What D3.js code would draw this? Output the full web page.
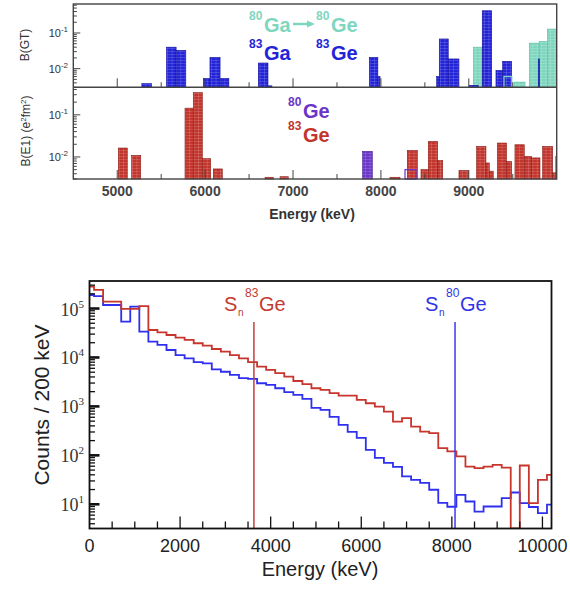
<!DOCTYPE html>
<html><head><meta charset="utf-8">
<script src="https://cdn.jsdelivr.net/npm/d3@7"></script>
<style>body{margin:0;background:#fff} svg{display:block}</style>
</head><body>
<svg id="c" width="570" height="589"></svg>
<script>
// ---------------- DATA ----------------
// B(GT) panel: [E low (keV), E high (keV), B(GT)]
const gtGa83 = [
  [5280,5390,0.0038],[5560,5670,0.040],[5670,5780,0.0325],[5980,6270,0.0053],
  [6055,6170,0.0207],[6605,6715,0.0144],[6715,6760,0.0033],[7868,7965,0.0207],
  [7965,7990,0.006],[8634,8664,0.006],[8664,8766,0.068],[8766,8888,0.0187],
  [9005,9107,0.0034],[9153,9260,0.42],[9309,9385,0.0089],[9385,9488,0.016],
  [9790,9805,0.0187]
];
const gtGa80 = [
  [9051,9153,0.040],[9514,9640,0.0042],[9688,9801,0.052],[9801,9893,0.058],[9893,10000,0.129]
];
const gtGa80Open = [[9400,9490,0.006]];
// B(E1) panel
const e1Ge83 = [
  [5012,5114,0.0163],[5164,5267,0.0109],[5771,5865,0.144],[5865,5968,0.336],
  [5968,6063,0.0091],[6093,6195,0.0052],[6682,6775,0.0033],[6852,6946,0.0034],
  [8103,8217,0.0033],[8300,8414,0.0143],[8456,8539,0.005],[8539,8646,0.0234],
  [8646,8703,0.0082],[8888,8994,0.0048],[9089,9195,0.0178],[9195,9233,0.0072],
  [9233,9278,0.0046],[9324,9430,0.0214],[9430,9488,0.0078],[9525,9631,0.0195],
  [9631,9715,0.0103],[9715,9810,0.0095],[9840,9954,0.0178],[9954,9990,0.0042]
];
const e1Ge80 = [[7792,7902,0.0136],[9990,10000,0.0103]];
const e1Ge80Open = [[8274,8399,0.005]];
const topDecades = [0.01, 0.1];
const topDecadeExp = ["-2", "-1"];
const topEnergyTicks = [5000,6000,7000,8000,9000];

// Neutron spectra: counts per 200 keV bin, bins centred at 0,200,...,10200 keV
const binWidth = 200;
const countsGe83 = [
  2.8e5,2.4e5,1.38e5,1.38e5,9.8e4,9.8e4,1.12e5,3.64e4,3.27e4,2.88e4,
  2.54e4,2.28e4,1.95e4,1.74e4,1.49e4,1.31e4,1.12e4,9600,8000,6500,
  5600,4800,4060,3300,2840,2350,2170,1860,1660,1660,
  1360,1160,990,783,490,574,387,306,284,140,
  120,95,59,55,59,64,56,1,62,10.6,31.6,40
];
const countsGe80 = [
  1.89e5,1.8e5,1.18e5,1.18e5,5.4e4,1.09e5,3.37e4,2.1e4,1.8e4,1.42e4,
  1.12e4,9600,8000,7600,5700,5100,4400,3770,3640,2970,
  2750,2350,1950,1720,1420,930,849,611,419,302,
  228,129,89,70,58,37,31.6,27.5,19.8,10.7,
  8.9,15.6,11.4,7.1,9.0,9.0,13.4,17.4,10.6,8.8,6.6,9.8
];
const snGe83 = 3630, snGe80 = 8070;
const countDecades = [10,100,1000,10000,100000];
const countDecadeExp = ["1","2","3","4","5"];
const bottomEnergyTicks = [0,2000,4000,6000,8000,10000];

// ---------------- DRAW ----------------
const svg = d3.select('#c');
const C = {teal:'#7fd6bf', blue:'#2323d8', red:'#c2352c', purple:'#6b34c8',
           lineRed:'#c8352c', lineBlue:'#2f2ff0'};
const defs = svg.append('defs');
function pattern(id, color){
  const p = defs.append('pattern').attr('id',id).attr('patternUnits','userSpaceOnUse')
    .attr('width',4.4).attr('height',3);
  p.append('rect').attr('width',4.4).attr('height',3).attr('fill',color);
  p.append('path').attr('d','M0 0.4H4.4M0.4 0V3').attr('stroke','#fff')
    .attr('stroke-opacity',0.22).attr('stroke-width',0.7);
}
pattern('pBlue',C.blue); pattern('pTeal',C.teal); pattern('pRed',C.red); pattern('pPurple',C.purple);

function logMinor(d0,d1){
  const out=[];
  for(let e=Math.floor(Math.log10(d0));e<=Math.ceil(Math.log10(d1));e++){
    for(let m=1;m<=9;m++){const v=m*Math.pow(10,e); if(v>=d0&&v<=d1) out.push(v);}
  }
  return out;
}

// ----- top figure -----
const xT = d3.scaleLinear([4500,10000],[73.3,556.7]);
const yGT = d3.scaleLog([0.003,0.65],[87.3,4]);
const yE1 = d3.scaleLog([0.003,0.45],[179,87.3]);
const gT = svg.append('g');

function bars(data, y, fill, stroke, open){
  const base = y.range()[0];
  gT.append('g').selectAll('rect').data(data).join('rect')
    .attr('x', d=>xT(d[0])).attr('width', d=>xT(d[1])-xT(d[0]))
    .attr('y', d=>y(d[2])).attr('height', d=>base-y(d[2]))
    .attr('fill', open?'none':fill).attr('stroke', stroke)
    .attr('stroke-width', open?1.2:0.6);
}
bars(gtGa80, yGT, 'url(#pTeal)', '#5fbfa6');
bars(gtGa83, yGT, 'url(#pBlue)', '#10109a');
bars(gtGa80Open, yGT, null, C.teal, true);
bars(e1Ge80, yE1, 'url(#pPurple)', '#4a1f99');
bars(e1Ge83, yE1, 'url(#pRed)', '#8a1d16');
bars(e1Ge80Open, yE1, null, C.purple, true);

// frame
gT.append('rect').attr('x',73.3).attr('y',4).attr('width',556.7-73.3).attr('height',175)
  .attr('fill','none').attr('stroke','#444').attr('stroke-width',1.4);
gT.append('line').attr('x1',73.3).attr('x2',556.7).attr('y1',87.3).attr('y2',87.3)
  .attr('stroke','#444').attr('stroke-width',1.4);

// x ticks on both sub-panels
const topXt = d3.range(5000,10000,500);
[yGT,yE1].forEach(y=>{
  const base=y.range()[0];
  gT.append('g').selectAll('line').data(topXt).join('line')
    .attr('x1',d=>xT(d)).attr('x2',d=>xT(d))
    .attr('y1',base).attr('y2',d=>base-(d%1000===0?9:5))
    .attr('stroke','#444').attr('stroke-width',1);
  const [d0,d1]=y.domain();
  gT.append('g').selectAll('line').data(logMinor(d0,d1)).join('line')
    .attr('x1',73.3).attr('x2',d=>73.3+(Math.abs(Math.log10(d)-Math.round(Math.log10(d)))<1e-9?7:3.5))
    .attr('y1',d=>y(d)).attr('y2',d=>y(d)).attr('stroke','#444').attr('stroke-width',1);
  topDecades.forEach((v,i)=>{
    const t=gT.append('text').attr('x',68).attr('y',y(v)+4).attr('text-anchor','end')
      .attr('font-family','Liberation Sans, Arial, sans-serif').attr('font-size',11).attr('fill','#333');
    t.append('tspan').text('10');
    t.append('tspan').attr('font-size',8).attr('dy',-5).text(topDecadeExp[i]);
  });
});
gT.append('g').selectAll('text').data(topEnergyTicks).join('text')
  .attr('x',d=>xT(d)).attr('y',196).attr('text-anchor','middle')
  .attr('font-family','Liberation Sans, Arial, sans-serif').attr('font-size',14)
  .attr('font-weight','bold').attr('fill','#444').text(d=>d);
gT.append('text').attr('x',312).attr('y',219).attr('text-anchor','middle')
  .attr('font-family','Liberation Sans, Arial, sans-serif').attr('font-size',14)
  .attr('font-weight','bold').attr('fill','#333').text('Energy (keV)');
gT.append('text').attr('transform','translate(29,45) rotate(-90)').attr('text-anchor','middle')
  .attr('font-family','Liberation Sans, Arial, sans-serif').attr('font-size',12).attr('fill','#333').text('B(GT)');
const e1t = gT.append('text').attr('transform','translate(30,131) rotate(-90)').attr('text-anchor','middle')
  .attr('font-family','Liberation Sans, Arial, sans-serif').attr('font-size',12).attr('fill','#333');
e1t.append('tspan').text('B(E1) (e');
e1t.append('tspan').attr('font-size',8).attr('dy',-4).text('2');
e1t.append('tspan').attr('dy',4).text('fm');
e1t.append('tspan').attr('font-size',8).attr('dy',-4).text('2');
e1t.append('tspan').attr('dy',4).text(')');

// legends
function iso(x, y, mass, sym, color){
  const g = gT.append('g').attr('fill',color).attr('font-family','Liberation Sans, Arial, sans-serif').attr('font-weight','bold');
  g.append('text').attr('x',x).attr('y',y-12).attr('font-size',12).text(mass);
  g.append('text').attr('x',x+15).attr('y',y).attr('font-size',20).text(sym);
}
iso(249,32,'80','Ga',C.teal);
iso(316,32,'80','Ge',C.teal);
gT.append('line').attr('x1',293).attr('x2',309).attr('y1',24).attr('y2',24).attr('stroke',C.teal).attr('stroke-width',2.5);
gT.append('path').attr('d','M307 20.5 L315 24 L307 27.5 Z').attr('fill',C.teal);
iso(249,60,'83','Ga',C.blue);
iso(316,60,'83','Ge',C.blue);
iso(288,118,'80','Ge',C.purple);
iso(288,142,'83','Ge',C.red);

// ----- bottom figure -----
const xB = d3.scaleLinear([0,10200],[89.5,551.5]);
const yB = d3.scaleLog([3.2,3.65e5],[528.5,281]).clamp(true);
const gB = svg.append('g');
defs.append('clipPath').attr('id','clipB').append('rect')
  .attr('x',89.5).attr('y',281).attr('width',462).attr('height',247.5);

function stepPoints(counts){
  const pts=[];
  counts.forEach((v,k)=>{
    const lo=Math.max(0,k*binWidth-binWidth/2), hi=Math.min(10200,k*binWidth+binWidth/2);
    pts.push([xB(lo),yB(v)],[xB(hi),yB(v)]);
  });
  return pts;
}
const line = d3.line();
const gl = gB.append('g').attr('clip-path','url(#clipB)');
gl.append('path').attr('d',line(stepPoints(countsGe80))).attr('fill','none')
  .attr('stroke',C.lineBlue).attr('stroke-width',1.8);
gl.append('path').attr('d',line(stepPoints(countsGe83))).attr('fill','none')
  .attr('stroke',C.lineRed).attr('stroke-width',1.8);

// Sn lines
gB.append('line').attr('x1',xB(snGe83)).attr('x2',xB(snGe83)).attr('y1',322).attr('y2',528.5)
  .attr('stroke','#c0403c').attr('stroke-width',1.5);
gB.append('line').attr('x1',xB(snGe80)).attr('x2',xB(snGe80)).attr('y1',322).attr('y2',528.5)
  .attr('stroke','#3a3af0').attr('stroke-width',1.5);
function snLabel(x, mass, color){
  const g=gB.append('g').attr('fill',color).attr('font-family','Liberation Sans, Arial, sans-serif');
  g.append('text').attr('x',x).attr('y',311).attr('font-size',20).text('S');
  g.append('text').attr('x',x+14).attr('y',316).attr('font-size',10).text('n');
  g.append('text').attr('x',x+21).attr('y',297).attr('font-size',12).text(mass);
  g.append('text').attr('x',x+35).attr('y',311).attr('font-size',20).text('Ge');
}
snLabel(224,'83','#c23a33');
snLabel(425,'80','#3333e6');

// frame
gB.append('rect').attr('x',89.5).attr('y',281).attr('width',462).attr('height',247.5)
  .attr('fill','none').attr('stroke','#111').attr('stroke-width',1.8);
// x ticks
gB.append('g').selectAll('line').data(d3.range(500,10200,500)).join('line')
  .attr('x1',d=>xB(d)).attr('x2',d=>xB(d)).attr('y1',528.5).attr('y2',d=>528.5-(d%2000===0?12:7))
  .attr('stroke','#111').attr('stroke-width',1.3);
// y ticks
gB.append('g').selectAll('line').data(logMinor(3.2,3.65e5).filter(v=>!countDecades.includes(v))).join('line')
  .attr('x1',89.5).attr('x2',95).attr('y1',d=>yB(d)).attr('y2',d=>yB(d))
  .attr('stroke','#111').attr('stroke-width',1.3);
gB.append('g').selectAll('line').data(countDecades).join('line')
  .attr('x1',89.5).attr('x2',99.5).attr('y1',d=>yB(d)).attr('y2',d=>yB(d))
  .attr('stroke','#111').attr('stroke-width',2.6);
countDecades.forEach((v,i)=>{
  const t=gB.append('text').attr('x',84).attr('y',yB(v)+7).attr('text-anchor','end')
    .attr('font-family','Liberation Serif, Times New Roman, serif').attr('font-size',18).attr('fill','#333');
  t.append('tspan').text('10');
  t.append('tspan').attr('font-size',11).attr('dy',-8).text(countDecadeExp[i]);
});
gB.append('g').selectAll('text').data(bottomEnergyTicks).join('text')
  .attr('x',d=>xB(d)).attr('y',552).attr('text-anchor','middle')
  .attr('font-family','Liberation Sans, Arial, sans-serif').attr('font-size',18).attr('fill','#222').text(d=>d);
gB.append('text').attr('x',320).attr('y',576).attr('text-anchor','middle')
  .attr('font-family','Liberation Sans, Arial, sans-serif').attr('font-size',20).attr('fill','#222').text('Energy (keV)');
gB.append('text').attr('transform','translate(49,405) rotate(-90)').attr('text-anchor','middle')
  .attr('font-family','Liberation Sans, Arial, sans-serif').attr('font-size',21).attr('fill','#222').text('Counts / 200 keV');
</script>
</body></html>
